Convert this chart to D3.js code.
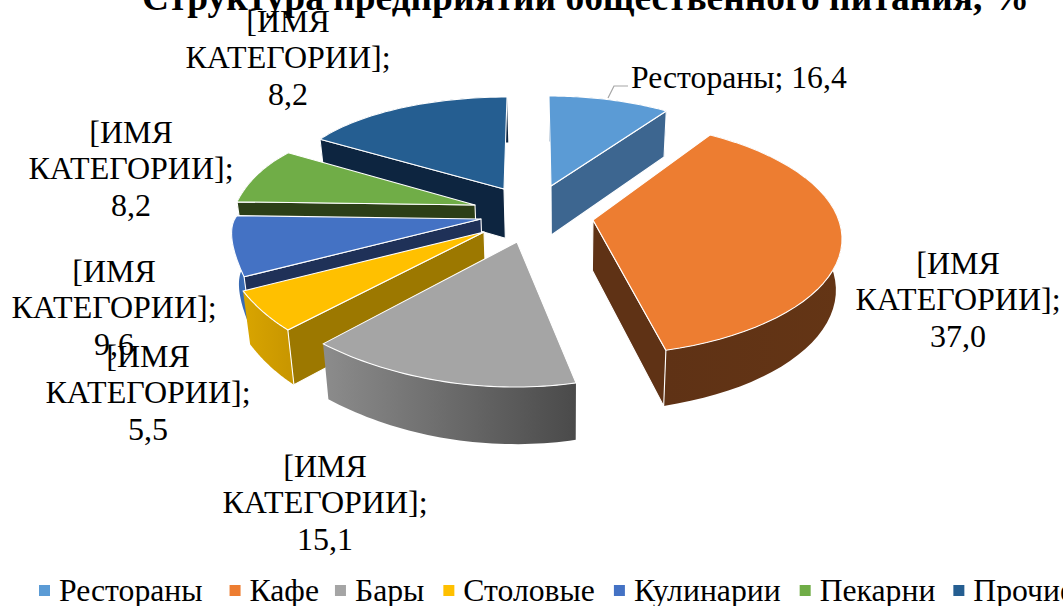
<!DOCTYPE html>
<html lang="ru">

<head>
    <meta charset="UTF-8">
    <title>Структура предприятий общественного питания</title>
    <script src="https://d3js.org/d3.v7.min.js"></script>
    <style>
        body { margin: 0; background: #fff; overflow: hidden; }
        text { font-family: "Liberation Serif", serif; fill: #000; }
    </style>
</head>

<body>
    <div id="chart"></div>
    <script>
        const titleText = "Структура предприятий общественного питания, %";
        const categories = ["Рестораны", "Кафе", "Бары", "Столовые", "Кулинарии", "Пекарни", "Прочие"];
        // size of each drawn slice, as the picture shows them
        const sliceValues = [8.2, 37.0, 15.1, 5.5, 9.6, 8.2, 16.4];
        // the numbers printed in the data labels (first and last do not follow the slices in the source)
        const labelValues = ["16,4", "37,0", "15,1", "5,5", "9,6", "8,2", "8,2"];
        const placeholder = ["[ИМЯ", "КАТЕГОРИИ];"];

        const colors = ["#5b9bd5", "#ed7d31", "#a5a5a5", "#ffc000", "#4472c4", "#70ad47", "#255e91"];
        const cutColors = ["#3d6690", "#5f3215", "#6b6b6b", "#9c7800", "#1f3158", "#2c3f17", "#0d2540"];
        const wallFrom = ["#3d6690", "#5f3215", "#8c8c8c", "#d9a500", "#3264ad", "#2c3f17", "#0d2540"];
        const wallTo = ["#3d6690", "#643515", "#4a4a4a", "#c99700", "#3a6cb6", "#2c3f17", "#0d2540"];

        // how each exploded slice sits in the 3D view: apex, then its arc as a skewed ellipse around the apex
        const view = [
            { ax: 551, ay: 186, cx: -2, rx: 238, tx: 0, cy: 25, ry: 115, ty: 0 },
            { ax: 593, ay: 220, cx: -5.6, rx: 254.6, tx: -3, cy: 17.6, ry: 118, ty: 0 },
            { ax: 517, ay: 242, cx: -24.5, rx: 281, tx: 0, cy: -25.5, ry: 170, ty: 13.7 },
            { ax: 484, ay: 232, cx: -81, rx: 191, tx: 0, cy: -25.7, ry: 155, ty: 0 },
            { ax: 481, ay: 219, cx: -58, rx: 187, tx: 40.8, cy: 173, ry: 57.4, ty: 175 },
            { ax: 475, ay: 205, cx: -54.7, rx: 184.6, tx: 51, cy: 49.7, ry: 114.7, ty: 50 },
            { ax: 504, ay: 189, cx: 3, rx: 218, tx: 0, cy: -5, ry: 87, ty: 0 }
        ];
        const drawOrder = [6, 0, 5, 4, 3, 2, 1];

        // label centres: x, and y of the first line
        const labelPos = [null, [958, 274], [325, 477], [148, 367], [114, 282], [131, 143], [288, 32]];
        const lineStep = 36.4;
        const legendGaps = [27, 16, 19, 19, 19, 18, 18];

        const width = 1063, height = 606;
        const svg = d3.select("#chart").append("svg")
            .attr("width", width)
            .attr("height", height)
            .style("display", "block");

        const arcs = d3.pie().value(d => d).sort(null)(sliceValues);
        const line = d3.line();
        const defs = svg.append("defs");

        // bottom of the pie: thicker and a bit narrower toward the viewer
        const drop = p => [p[0] - (p[0] - 565) * 0.022, p[1] + 41.6 + 0.04 * p[1]];

        const rimPoint = (v, a) => [
            v.ax + v.cx + v.rx * Math.sin(a) + v.tx * Math.cos(a),
            v.ay + v.cy - v.ry * Math.cos(a) + v.ty * Math.sin(a)
        ];

        drawOrder.forEach(i => {
            const v = view[i];
            const apex = [v.ax, v.ay];
            const rim = d3.range(0, 41).map(k =>
                rimPoint(v, arcs[i].startAngle + (arcs[i].endAngle - arcs[i].startAngle) * k / 40));
            const first = rim[0], last = rim[rim.length - 1];
            const g = svg.append("g")
                .attr("stroke", "#fff")
                .attr("stroke-width", 1.1)
                .attr("stroke-linejoin", "round");

            const grad = defs.append("linearGradient")
                .attr("id", "wall-" + i)
                .attr("gradientUnits", "userSpaceOnUse")
                .attr("x1", d3.min(rim, p => p[0])).attr("x2", d3.max(rim, p => p[0]))
                .attr("y1", 0).attr("y2", 0);
            grad.append("stop").attr("offset", 0).attr("stop-color", wallFrom[i]);
            grad.append("stop").attr("offset", 1).attr("stop-color", wallTo[i]);

            g.append("path")
                .attr("d", line(rim.concat(rim.map(drop).reverse())) + "Z")
                .attr("fill", "url(#wall-" + i + ")")
                .attr("stroke", "none");

            // cut faces, only the ones turned to the viewer
            if (Math.sin(arcs[i].endAngle) > 0) {
                g.append("path")
                    .attr("d", line([apex, last, drop(last), drop(apex)]) + "Z")
                    .attr("fill", cutColors[i]);
            }
            if (Math.sin(arcs[i].startAngle) < 0) {
                g.append("path")
                    .attr("d", line([apex, first, drop(first), drop(apex)]) + "Z")
                    .attr("fill", cutColors[i]);
            }

            g.append("path")
                .attr("d", line([apex].concat(rim)) + "Z")
                .attr("fill", colors[i]);
        });

        // title, cut by the top of the picture as in the source
        svg.append("text")
            .attr("x", 585.5)
            .attr("y", 10)
            .attr("text-anchor", "middle")
            .attr("font-size", 37.4)
            .attr("font-weight", "bold")
            .text(titleText);

        // data labels
        labelPos.forEach((pos, i) => {
            if (!pos) return;
            placeholder.concat([labelValues[i]]).forEach((t, k) => {
                svg.append("text")
                    .attr("x", pos[0])
                    .attr("y", pos[1] + k * lineStep)
                    .attr("text-anchor", "middle")
                    .attr("font-size", 32)
                    .text(t);
            });
        });

        svg.append("text")
            .attr("x", 631)
            .attr("y", 88)
            .attr("font-size", 31.7)
            .text(categories[0] + "; " + labelValues[0]);
        svg.append("path")
            .attr("d", "M608,98L614,86L628,86")
            .attr("fill", "none")
            .attr("stroke", "#a6a6a6")
            .attr("stroke-width", 1.2);

        // legend
        let legendX = 39;
        categories.forEach((c, i) => {
            svg.append("rect")
                .attr("x", legendX)
                .attr("y", 585)
                .attr("width", 11)
                .attr("height", 11)
                .attr("fill", colors[i]);
            const t = svg.append("text")
                .attr("x", legendX + 20)
                .attr("y", 601)
                .attr("font-size", 31.7)
                .text(c);
            legendX += 20 + t.node().getComputedTextLength() + legendGaps[i];
        });
    </script>
</body>

</html>
